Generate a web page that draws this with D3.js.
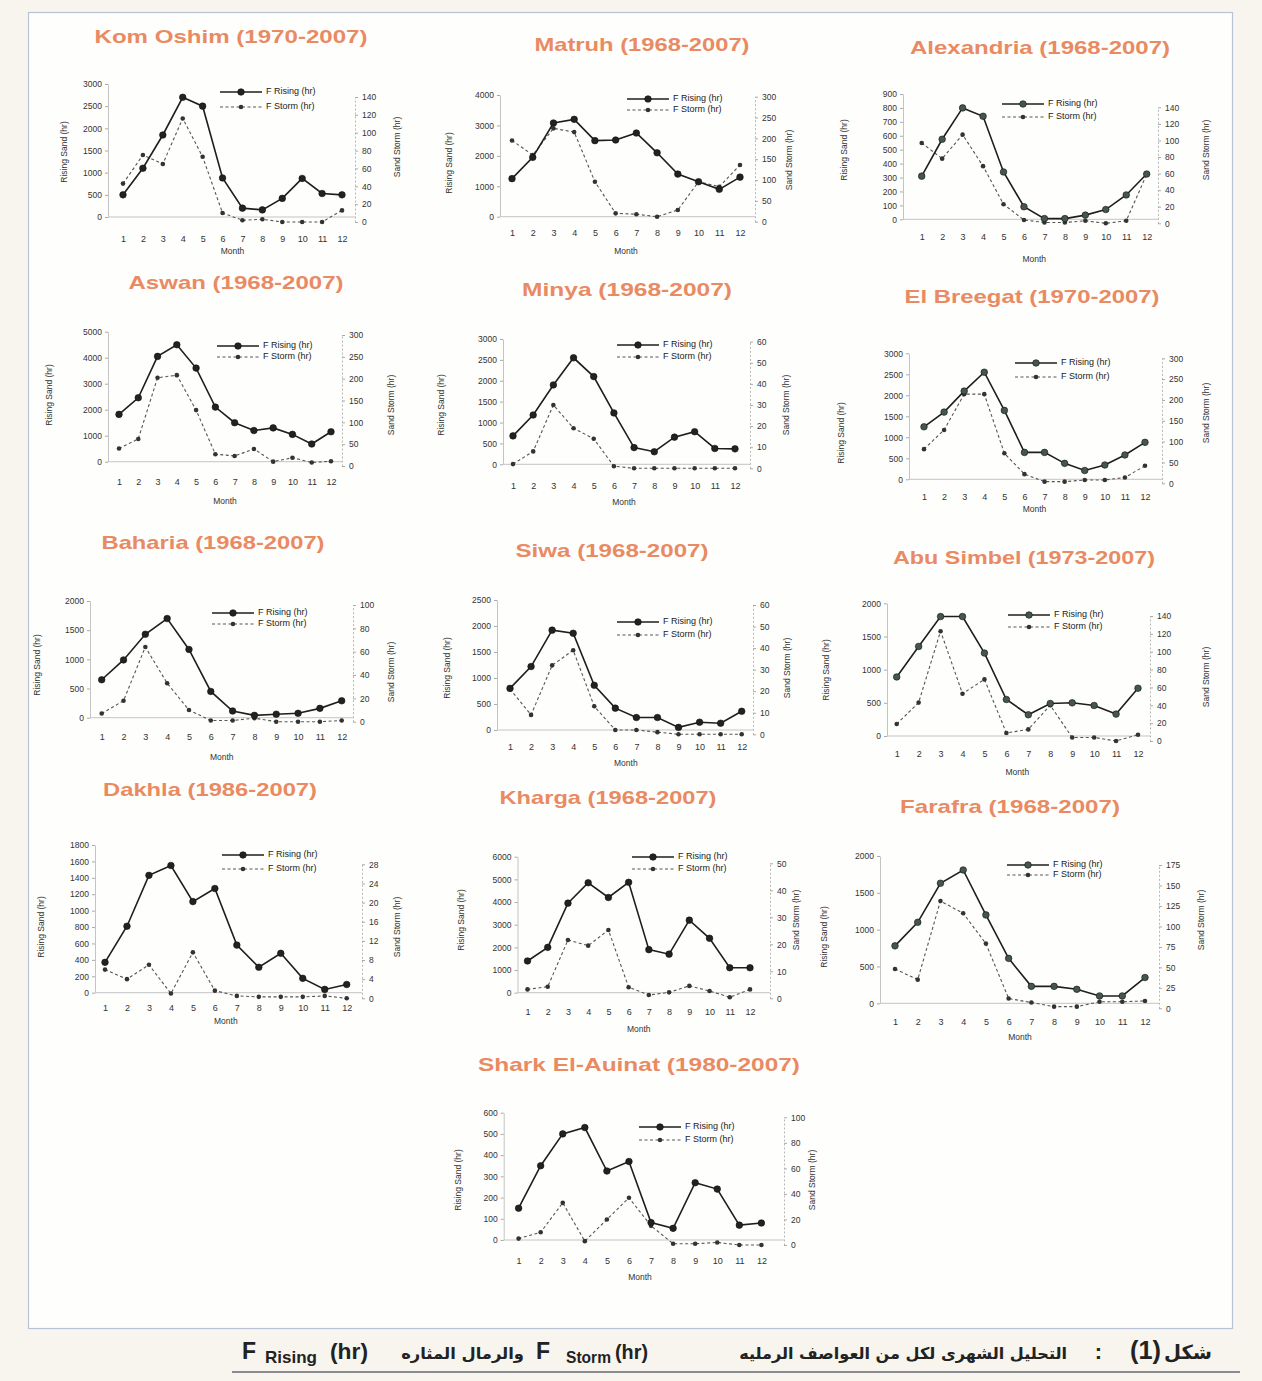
<!DOCTYPE html>
<html>
<head>
<meta charset="utf-8">
<script src="https://cdn.jsdelivr.net/npm/d3@7"></script>
<style>
  body { margin: 0; background: #f7f5ee; }
  svg { display: block; }
  .tick text { font-family: "Liberation Sans", Arial, sans-serif; }
</style>
</head>
<body>
<svg id="fig" width="1262" height="1381"></svg>
<script>
// ---------- data: monthly frequency of rising sand and sand storms (hours) ----------
const months = [1, 2, 3, 4, 5, 6, 7, 8, 9, 10, 11, 12];

const stationNames = ["Kom Oshim (1970-2007)", "Matruh (1968-2007)", "Alexandria (1968-2007)",
  "Aswan (1968-2007)", "Minya  (1968-2007)", "El Breegat (1970-2007)",
  "Baharia (1968-2007)", "Siwa (1968-2007)", "Abu Simbel (1973-2007)",
  "Dakhla (1986-2007)", "Kharga (1968-2007)", "Farafra (1968-2007)",
  "Shark El-Auinat  (1980-2007)"];

const komOshimRising = [500, 1100, 1850, 2700, 2500, 880, 200, 160, 420, 870, 530, 500];
const komOshimStorm  = [43, 75, 65, 116, 73, 10, 2, 3, 0, 0, 0, 13];
const matruhRising   = [1250, 1950, 3080, 3200, 2500, 2520, 2750, 2100, 1400, 1150, 900, 1300];
const matruhStorm    = [195, 160, 224, 215, 96, 20, 18, 12, 28, 96, 84, 136];
const alexandriaRising = [310, 575, 800, 740, 340, 90, 5, 5, 30, 70, 175, 325];
const alexandriaStorm  = [97, 78, 107, 69, 23, 4, 1, 1, 3, 0, 3, 59];
const aswanRising    = [1820, 2460, 4050, 4500, 3600, 2100, 1500, 1200, 1300, 1050, 680, 1150];
const aswanStorm     = [40, 62, 202, 208, 128, 27, 23, 39, 10, 19, 8, 11];
const minyaRising    = [680, 1180, 1900, 2550, 2100, 1230, 400, 300, 650, 780, 380, 370];
const minyaStorm     = [2, 8, 30, 19, 14, 1, 0, 0, 0, 0, 0, 0];
const elBreegatRising = [1250, 1600, 2100, 2550, 1640, 640, 640, 380, 210, 340, 580, 880];
const elBreegatStorm  = [82, 128, 214, 214, 72, 22, 4, 4, 8, 8, 14, 42];
const bahariaRising  = [650, 990, 1430, 1700, 1170, 450, 115, 40, 60, 75, 160, 290];
const bahariaStorm   = [7, 18, 64, 33, 10, 1, 1, 3, 0, 0, 0, 1];
const siwaRising     = [800, 1220, 1920, 1860, 860, 420, 240, 240, 50, 150, 130, 360];
const siwaStorm      = [21, 9, 32, 39, 13, 2, 2, 1, 0, 0, 0, 0];
const abuSimbelRising = [890, 1350, 1800, 1800, 1250, 550, 320, 490, 500, 460, 330, 720];
const abuSimbelStorm  = [19, 43, 123, 53, 69, 9, 13, 40, 4, 4, 0, 7];
const dakhlaRising   = [370, 810, 1430, 1550, 1110, 1270, 580, 310, 480, 175, 40, 100];
const dakhlaStorm    = [6, 4, 7, 1, 9.6, 1.6, 0.5, 0.3, 0.3, 0.3, 0.5, 0];
const khargaRising   = [1400, 2000, 3950, 4850, 4200, 4870, 1900, 1700, 3200, 2400, 1100, 1100];
const khargaStorm    = [3.3, 4.3, 21.6, 19.5, 25.3, 4.1, 1.2, 2.2, 4.6, 2.7, 0.4, 3.3];
const farafraRising  = [780, 1100, 1630, 1810, 1200, 610, 230, 230, 190, 100, 100, 350];
const farafraStorm   = [48, 35, 131, 116, 79, 12, 7, 2, 2, 8, 8, 9];
const sharkRising    = [150, 350, 500, 530, 325, 370, 82, 55, 270, 240, 70, 80];
const sharkStorm     = [5, 10, 33, 3, 20, 37, 15, 1, 1, 2, 0, 0];

// tick labels of the left (rising sand) and right (sand storm) axes
const komOshimLeftTicks = [0, 500, 1000, 1500, 2000, 2500, 3000];
const komOshimRightTicks = [0, 20, 40, 60, 80, 100, 120, 140];
const matruhLeftTicks = [0, 1000, 2000, 3000, 4000];
const matruhRightTicks = [0, 50, 100, 150, 200, 250, 300];
const alexandriaLeftTicks = [0, 100, 200, 300, 400, 500, 600, 700, 800, 900];
const alexandriaRightTicks = [0, 20, 40, 60, 80, 100, 120, 140];
const aswanLeftTicks = [0, 1000, 2000, 3000, 4000, 5000];
const aswanRightTicks = [0, 50, 100, 150, 200, 250, 300];
const minyaLeftTicks = [0, 500, 1000, 1500, 2000, 2500, 3000];
const minyaRightTicks = [0, 10, 20, 30, 40, 50, 60];
const elBreegatLeftTicks = [0, 500, 1000, 1500, 2000, 2500, 3000];
const elBreegatRightTicks = [0, 50, 100, 150, 200, 250, 300];
const bahariaLeftTicks = [0, 500, 1000, 1500, 2000];
const bahariaRightTicks = [0, 20, 40, 60, 80, 100];
const siwaLeftTicks = [0, 500, 1000, 1500, 2000, 2500];
const siwaRightTicks = [0, 10, 20, 30, 40, 50, 60];
const abuSimbelLeftTicks = [0, 500, 1000, 1500, 2000];
const abuSimbelRightTicks = [0, 20, 40, 60, 80, 100, 120, 140];
const dakhlaLeftTicks = [0, 200, 400, 600, 800, 1000, 1200, 1400, 1600, 1800];
const dakhlaRightTicks = [0, 4, 8, 12, 16, 20, 24, 28];
const khargaLeftTicks = [0, 1000, 2000, 3000, 4000, 5000, 6000];
const khargaRightTicks = [0, 10, 20, 30, 40, 50];
const farafraLeftTicks = [0, 500, 1000, 1500, 2000];
const farafraRightTicks = [0, 25, 50, 75, 100, 125, 150, 175];
const sharkLeftTicks = [0, 100, 200, 300, 400, 500, 600];
const sharkRightTicks = [0, 20, 40, 60, 80, 100];

const legendLabels = ["F Rising (hr)", "F Storm (hr)"];
const axisTitles = ["Rising Sand (hr)", "Sand Storm (hr)", "Month"];

const series = [
  [komOshimRising, komOshimStorm, komOshimLeftTicks, komOshimRightTicks],
  [matruhRising, matruhStorm, matruhLeftTicks, matruhRightTicks],
  [alexandriaRising, alexandriaStorm, alexandriaLeftTicks, alexandriaRightTicks],
  [aswanRising, aswanStorm, aswanLeftTicks, aswanRightTicks],
  [minyaRising, minyaStorm, minyaLeftTicks, minyaRightTicks],
  [elBreegatRising, elBreegatStorm, elBreegatLeftTicks, elBreegatRightTicks],
  [bahariaRising, bahariaStorm, bahariaLeftTicks, bahariaRightTicks],
  [siwaRising, siwaStorm, siwaLeftTicks, siwaRightTicks],
  [abuSimbelRising, abuSimbelStorm, abuSimbelLeftTicks, abuSimbelRightTicks],
  [dakhlaRising, dakhlaStorm, dakhlaLeftTicks, dakhlaRightTicks],
  [khargaRising, khargaStorm, khargaLeftTicks, khargaRightTicks],
  [farafraRising, farafraStorm, farafraLeftTicks, farafraRightTicks],
  [sharkRising, sharkStorm, sharkLeftTicks, sharkRightTicks]
];

// ---------- layout of each small chart (pixels) ----------
const layout = [
  {tx:231, ty:43, tw:273, xL:108, xR:355, m1:123, m12:342, yL0:217, yLt:84, yR0:222, yRt:97, my:243, mty:254, ll:[65,152], rl:[398,147], lg:[220,92,107], mk:"#222"},
  {tx:642, ty:51, tw:215, xL:500, xR:755, m1:512, m12:740, yL0:216.7, yLt:95, yR0:221.7, yRt:96.7, my:237, mty:254, ll:[450,163], rl:[790,160], lg:[627,99,110], mk:"#222"},
  {tx:1040, ty:54, tw:260, xL:903, xR:1158, m1:921.7, m12:1146.7, yL0:219.3, yLt:94, yR0:223.3, yRt:107.3, my:241, mty:262, ll:[845,150], rl:[1207,150], lg:[1002,104,117], mk:"#44574d"},
  {tx:236, ty:289, tw:215, xL:108, xR:342, m1:119, m12:331, yL0:461.7, yLt:331.7, yR0:466, yRt:335, my:486, mty:504, ll:[50,395], rl:[392,405], lg:[217,346,357], mk:"#222"},
  {tx:627, ty:296, tw:210, xL:503, xR:750, m1:513, m12:735, yL0:464.3, yLt:339, yR0:468.3, yRt:341.7, my:490, mty:505, ll:[442,405], rl:[787,405], lg:[617,345,357], mk:"#222"},
  {tx:1032, ty:303, tw:255, xL:909, xR:1162, m1:924, m12:1145, yL0:479.3, yLt:353.3, yR0:483.3, yRt:358.3, my:501, mty:512, ll:[842,433], rl:[1207,413], lg:[1015,363,377], mk:"#44574d"},
  {tx:213, ty:549, tw:223, xL:90, xR:353, m1:101.7, m12:341.7, yL0:717.7, yLt:601, yR0:721.7, yRt:605, my:741, mty:760, ll:[38,665], rl:[392,672], lg:[212,613,624], mk:"#222"},
  {tx:612, ty:557, tw:193, xL:497, xR:753, m1:510, m12:741.7, yL0:730, yLt:600, yR0:734.3, yRt:605, my:751, mty:766, ll:[448,668], rl:[788,668], lg:[617,622,635], mk:"#222"},
  {tx:1024, ty:564, tw:262, xL:887, xR:1150, m1:896.7, m12:1138, yL0:736, yLt:603.3, yR0:741, yRt:616, my:758, mty:775, ll:[827,670], rl:[1207,677], lg:[1008,615,627], mk:"#44574d"},
  {tx:210, ty:796, tw:214, xL:95, xR:362, m1:105, m12:346.7, yL0:992.7, yLt:845, yR0:998.3, yRt:864.3, my:1012, mty:1024, ll:[42,927], rl:[398,927], lg:[222,855,869], mk:"#222"},
  {tx:608, ty:804, tw:217, xL:517.5, xR:770, m1:527.5, m12:750, yL0:992.7, yLt:856.7, yR0:998.3, yRt:863.3, my:1016, mty:1032, ll:[462,920], rl:[797,920], lg:[632,857,869], mk:"#222"},
  {tx:1010, ty:813, tw:220, xL:880, xR:1159, m1:895, m12:1145, yL0:1003.3, yLt:856, yR0:1008.3, yRt:865, my:1026, mty:1040, ll:[825,937], rl:[1202,920], lg:[1007,865,875], mk:"#44574d"},
  {tx:639, ty:1071, tw:322, xL:503.7, xR:784, m1:518.6, m12:761.4, yL0:1240, yLt:1112.7, yR0:1245, yRt:1117.3, my:1265, mty:1280, ll:[459,1180], rl:[813,1180], lg:[639,1127,1140], mk:"#222"}
];

const svg = d3.select("#fig");
const FONT = '"Liberation Sans", Arial, sans-serif';
const AR_FONT = '"DejaVu Sans", sans-serif';

// page frame
svg.append("rect").attr("x", 0).attr("y", 0).attr("width", 1262).attr("height", 1381).attr("fill", "#f7f5ee");
svg.append("rect").attr("x", 28.5).attr("y", 12.5).attr("width", 1204).attr("height", 1316)
  .attr("fill", "#fefefc").attr("stroke", "#b9c3d6").attr("stroke-width", 1.2);

function drawPanel(i) {
  const [rising, storm, lt, rt] = series[i];
  const L = layout[i];
  const g = svg.append("g").attr("class", "panel");

  const x = d3.scaleLinear().domain([1, 12]).range([L.m1, L.m12]);
  const yL = d3.scaleLinear().domain([0, d3.max(lt)]).range([L.yL0, L.yLt]);
  const yR = d3.scaleLinear().domain([0, d3.max(rt)]).range([L.yR0, L.yRt]);

  // title
  g.append("text").attr("x", L.tx).attr("y", L.ty)
    .attr("text-anchor", "middle")
    .attr("textLength", L.tw).attr("lengthAdjust", "spacingAndGlyphs")
    .attr("font-family", FONT).attr("font-weight", "bold").attr("font-size", 19)
    .attr("fill", "#e98a63").text(stationNames[i]);

  // x baseline
  g.append("line").attr("x1", L.xL).attr("x2", L.xR).attr("y1", L.yL0).attr("y2", L.yL0)
    .attr("stroke", "#c4c4c4").attr("stroke-width", 1);

  // left axis
  const aL = g.append("g").attr("transform", `translate(${L.xL},0)`)
    .call(d3.axisLeft(yL).tickValues(lt).tickFormat(d3.format("d")).tickSize(3).tickSizeOuter(0).tickPadding(3));
  aL.select(".domain").attr("stroke", "#c4c4c4");
  aL.selectAll(".tick line").attr("stroke", "#aaa");
  aL.selectAll(".tick text").attr("font-size", 8.5).attr("fill", "#333");

  // right axis
  const aR = g.append("g").attr("transform", `translate(${L.xR},0)`)
    .call(d3.axisRight(yR).tickValues(rt).tickFormat(d3.format("d")).tickSize(3).tickSizeOuter(0).tickPadding(4));
  aR.select(".domain").attr("stroke", "#b8b8b8").attr("stroke-dasharray", "2,2");
  aR.selectAll(".tick line").attr("stroke", "#aaa");
  aR.selectAll(".tick text").attr("font-size", 8.5).attr("fill", "#333");

  // month labels
  const aX = g.append("g").attr("transform", `translate(0,${L.yL0})`)
    .call(d3.axisBottom(x).tickValues(months).tickFormat(d3.format("d")).tickSize(0).tickPadding(L.my - L.yL0 - 7));
  aX.select(".domain").remove();
  aX.selectAll(".tick text").attr("font-size", 9).attr("fill", "#333");

  // axis titles
  g.append("text").attr("transform", `translate(${L.ll[0]},${L.ll[1]}) rotate(-90)`)
    .attr("text-anchor", "middle").attr("dominant-baseline", "middle")
    .attr("font-family", FONT).attr("font-size", 8.5).attr("fill", "#333").text(axisTitles[0]);
  g.append("text").attr("transform", `translate(${L.rl[0]},${L.rl[1]}) rotate(-90)`)
    .attr("text-anchor", "middle").attr("dominant-baseline", "middle")
    .attr("font-family", FONT).attr("font-size", 8.5).attr("fill", "#333").text(axisTitles[1]);
  g.append("text").attr("x", (L.m1 + L.m12) / 2).attr("y", L.mty)
    .attr("text-anchor", "middle")
    .attr("font-family", FONT).attr("font-size", 8.5).attr("fill", "#333").text(axisTitles[2]);

  // sand storm series (dashed, right axis)
  const lineR = d3.line().x((d, k) => x(months[k])).y(d => yR(d));
  g.append("path").datum(storm).attr("d", lineR)
    .attr("fill", "none").attr("stroke", "#555").attr("stroke-width", 1.1).attr("stroke-dasharray", "3,2.5");
  g.selectAll(".mS").data(storm).join("circle")
    .attr("cx", (d, k) => x(months[k])).attr("cy", d => yR(d)).attr("r", 2.3).attr("fill", "#333");

  // rising sand series (solid, left axis)
  const lineL = d3.line().x((d, k) => x(months[k])).y(d => yL(d));
  g.append("path").datum(rising).attr("d", lineL)
    .attr("fill", "none").attr("stroke", "#1e1e1e").attr("stroke-width", 1.6);
  g.selectAll(".mR").data(rising).join("circle")
    .attr("cx", (d, k) => x(months[k])).attr("cy", d => yL(d)).attr("r", 3.3)
    .attr("fill", L.mk).attr("stroke", "#111").attr("stroke-width", 0.6);

  // legend
  const [lx, ly1, ly2] = L.lg;
  const len = 42;
  g.append("line").attr("x1", lx).attr("x2", lx + len).attr("y1", ly1).attr("y2", ly1)
    .attr("stroke", "#1e1e1e").attr("stroke-width", 1.6);
  g.append("circle").attr("cx", lx + len / 2).attr("cy", ly1).attr("r", 3.3).attr("fill", L.mk).attr("stroke", "#111").attr("stroke-width", 0.6);
  g.append("line").attr("x1", lx).attr("x2", lx + len).attr("y1", ly2).attr("y2", ly2)
    .attr("stroke", "#555").attr("stroke-width", 1.1).attr("stroke-dasharray", "3,2.5");
  g.append("circle").attr("cx", lx + len / 2).attr("cy", ly2).attr("r", 2.3).attr("fill", "#333");
  g.append("text").attr("x", lx + len + 4).attr("y", ly1).attr("dominant-baseline", "middle")
    .attr("font-family", FONT).attr("font-size", 9).attr("fill", "#222").text(legendLabels[0]);
  g.append("text").attr("x", lx + len + 4).attr("y", ly2).attr("dominant-baseline", "middle")
    .attr("font-family", FONT).attr("font-size", 9).attr("fill", "#222").text(legendLabels[1]);
}

layout.forEach((L, i) => drawPanel(i));

// ---------- figure caption: pieces placed right to left, each anchored at its right edge ----------
// font size of each piece is scaled so its natural width fills its slot
const captionParts = [
  {t: "شكل", r: 1212, w: 48, fs: 22, ar: true},
  {t: "(1)", r: 1161, w: 33, fs: 22},
  {t: ":", r: 1102, w: 7, fs: 22},
  {t: "التحليل الشهرى لكل من العواصف الرمليه", r: 1067, w: 328, fs: 19, ar: true},
  {t: "(hr)", r: 648, w: 33, fs: 23},
  {t: "Storm", r: 611, w: 45, fs: 15, sub: true},
  {t: "F", r: 550, w: 14, fs: 23},
  {t: "والرمال المثاره", r: 524, w: 123, fs: 19, ar: true},
  {t: "(hr)", r: 368, w: 38, fs: 23},
  {t: "Rising", r: 317, w: 52, fs: 15, sub: true},
  {t: "F", r: 256, w: 15, fs: 23}
];
const cap = svg.append("g").attr("class", "caption");
captionParts.forEach(p => {
  const t = cap.append("text")
    .attr("x", p.r).attr("y", p.sub ? 1363 : 1359)
    .attr("text-anchor", "end")
    .attr("font-family", p.ar ? AR_FONT : FONT)
    .attr("font-weight", "bold").attr("font-size", p.fs).attr("fill", "#222")
    .text(p.t);
  if (p.t.length > 1) {
    const natural = t.node().getComputedTextLength();
    const fs = Math.min(p.fs * 1.15, p.fs * p.w / natural);
    t.attr("font-size", fs.toFixed(2));
  }
});
svg.append("line").attr("x1", 232).attr("x2", 1240).attr("y1", 1372).attr("y2", 1372)
  .attr("stroke", "#8a8a92").attr("stroke-width", 2);
</script>
</body>
</html>
